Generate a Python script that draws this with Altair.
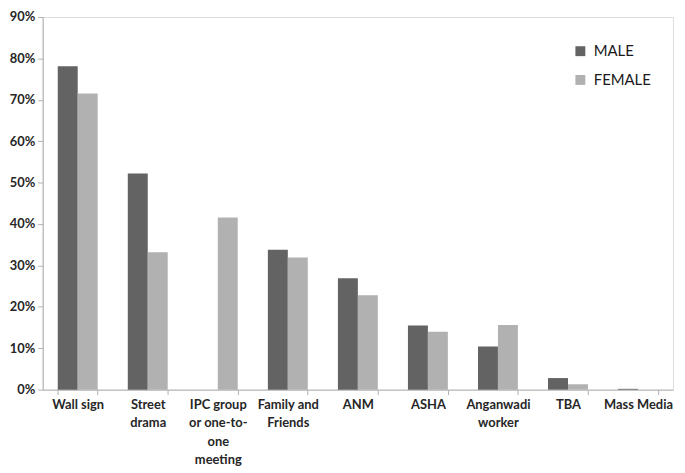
import altair as alt
import pandas as pd

categories = ["Wall sign", "Street\ndrama", "IPC group\nor one-to-\none\nmeeting", "Family and\nFriends",
              "ANM", "ASHA", "Anganwadi\nworker", "TBA", "Mass Media"]
male = [78.1, 52.2, 0.0, 33.8, 26.9, 15.5, 10.4, 2.8, 0.2]
female = [71.5, 33.2, 41.6, 31.9, 22.8, 14.0, 15.6, 1.3, 0.0]
series = ["MALE", "FEMALE"]
colors = ["#636363", "#b1b1b1"]

rows = []
for c, m, f in zip(categories, male, female):
    rows.append({"cat": c, "series": "MALE", "value": m / 100})
    rows.append({"cat": c, "series": "FEMALE", "value": f / 100})
df = pd.DataFrame(rows)

FONT = "Lato"
chart = alt.Chart(df).mark_bar().encode(
    x=alt.X("cat:N", sort=categories, title=None,
            scale=alt.Scale(paddingInner=0.43, paddingOuter=0.215),
            axis=alt.Axis(labelExpr="split(datum.label, '\\n')", labelAngle=0,
                          tickBand="extent", labelFontWeight="bold", labelFontSize=13,
                          labelFont=FONT, labelColor="#262626", labelLineHeight=18.5,
                          labelPadding=4, domainColor="#b0b0b0", tickColor="#b0b0b0",
                          tickSize=5, labelBaseline="top")),
    xOffset=alt.XOffset("series:N", sort=series),
    y=alt.Y("value:Q", title=None,
            scale=alt.Scale(domain=[0, 0.9], nice=False),
            axis=alt.Axis(format=".0%", values=[i / 10 for i in range(10)], grid=False,
                          labelFontWeight="bold", labelFontSize=13, labelFont=FONT,
                          labelColor="#262626", domainColor="#b0b0b0", tickColor="#b0b0b0",
                          tickSize=5, labelPadding=3)),
    color=alt.Color("series:N", sort=series, title=None,
                    scale=alt.Scale(domain=series, range=colors),
                    legend=alt.Legend(orient="none", legendX=535, legendY=27,
                                      symbolType="square", symbolSize=100, symbolStrokeWidth=0,
                                      labelFontSize=15, labelFont=FONT, labelColor="#1a1a1a",
                                      rowPadding=13, labelOffset=6)),
).properties(
    width=636, height=376,
    autosize=alt.AutoSizeParams(type="none"),
    padding={"left": 35, "top": 7, "right": 4, "bottom": 80},
).configure_view(stroke=None).configure(background="white")

chart.save("out.html", embed_options={"renderer": "svg", "actions": False})
